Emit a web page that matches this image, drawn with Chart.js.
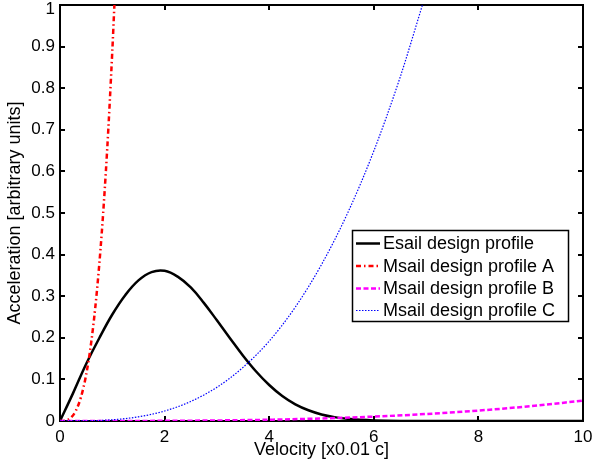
<!DOCTYPE html>
<html><head><meta charset="utf-8">
<script src="https://cdn.jsdelivr.net/npm/chart.js@4/dist/chart.umd.min.js"></script>
<style>html,body{margin:0;padding:0;background:#fff}</style>
</head><body>
<canvas id="c" width="594" height="469" style="width:594px;height:469px;display:block"></canvas>
<script>
const xTickValues = [0, 2, 4, 6, 8, 10];
const yTickValues = [0, 0.1, 0.2, 0.3, 0.4, 0.5, 0.6, 0.7, 0.8, 0.9, 1];
const seriesNames = ['Esail design profile', 'Msail design profile A', 'Msail design profile B', 'Msail design profile C'];
const xTitle = 'Velocity [x0.01 c]';
const yTitle = 'Acceleration [arbitrary units]';

const esailV = [0, 0.25, 0.5, 0.75, 1.0, 1.25, 1.5, 1.75, 2.0, 2.25, 2.5, 2.75, 3.0, 3.25, 3.5, 3.75, 4.0, 4.25, 4.5, 4.75, 5.0, 5.25, 5.5, 5.75, 6.0, 6.5, 7.0, 10];
const esailA = [0, 0.067, 0.137, 0.199, 0.256, 0.303, 0.338, 0.358, 0.361, 0.347, 0.321, 0.284, 0.242, 0.199, 0.157, 0.119, 0.0865, 0.060, 0.040, 0.0258, 0.0158, 0.0093, 0.0052, 0.0028, 0.0014, 0.0003, 0.0001, 0];

const msailAV = [0, 0.1, 0.2, 0.3, 0.4, 0.5, 0.6, 0.7, 0.8, 0.9, 1.0, 1.04];
const msailAA = [0, 0.001, 0.007, 0.024, 0.057, 0.111, 0.192, 0.305, 0.455, 0.648, 0.889, 1.0];

const msailBV = [0, 1, 2, 3, 4, 5, 6, 7, 8, 9, 10];
const msailBA = [0, 0.0001, 0.0004, 0.0013, 0.0031, 0.0061, 0.0106, 0.0168, 0.0251, 0.0357, 0.049];

const msailCV = [0, 0.5, 1, 1.5, 2, 2.5, 3, 3.5, 4, 4.5, 5, 5.5, 6, 6.5, 6.93];
const msailCA = [0, 0.0004, 0.003, 0.010, 0.024, 0.047, 0.081, 0.129, 0.192, 0.274, 0.376, 0.5, 0.649, 0.825, 1.0];

const FONT = "'Liberation Sans', Arial, Helvetica, sans-serif";
const pts = (xs, ys) => xs.map((x, i) => ({x: x, y: ys[i]}));
const fmtY = v => String(Math.round(v * 10) / 10);

const frameAndLegend = {
  id: 'frameAndLegend',
  beforeDatasetsDraw(chart) {
    const {ctx, chartArea: a, scales: {x, y}} = chart;
    ctx.save();
    ctx.strokeStyle = '#000';
    ctx.lineWidth = 2;
    ctx.strokeRect(a.left, a.top, a.right - a.left, a.bottom - a.top);
    ctx.beginPath();
    xTickValues.forEach(v => {
      const px = Math.round(x.getPixelForValue(v));
      ctx.moveTo(px, a.bottom); ctx.lineTo(px, a.bottom - 5);
      ctx.moveTo(px, a.top); ctx.lineTo(px, a.top + 5);
    });
    yTickValues.forEach(v => {
      const py = Math.round(y.getPixelForValue(v));
      ctx.moveTo(a.left, py); ctx.lineTo(a.left + 5, py);
      ctx.moveTo(a.right, py); ctx.lineTo(a.right - 5, py);
    });
    ctx.stroke();
    const top = yTickValues[yTickValues.length - 1];
    ctx.fillStyle = '#000';
    ctx.font = '17px ' + FONT;
    ctx.textAlign = 'right';
    ctx.textBaseline = 'middle';
    ctx.fillText(fmtY(top), a.left - 5, y.getPixelForValue(top) + 4);
    ctx.restore();
  },
  afterDraw(chart) {
    const ctx = chart.ctx;
    const bx = 352.5, by = 230.5, bw = 216, bh = 91;
    ctx.save();
    ctx.fillStyle = '#fff';
    ctx.fillRect(bx, by, bw, bh);
    ctx.strokeStyle = '#000';
    ctx.lineWidth = 1.5;
    ctx.strokeRect(bx, by, bw, bh);
    const rows = [243.5, 266, 288.5, 310.5];
    ctx.font = '18px ' + FONT;
    ctx.textBaseline = 'middle';
    ctx.textAlign = 'left';
    chart.data.datasets.forEach((ds, i) => {
      const yy = rows[i];
      ctx.beginPath();
      ctx.strokeStyle = ds.borderColor;
      ctx.lineWidth = ds.borderWidth;
      ctx.setLineDash(ds.borderDash || []);
      ctx.moveTo(356, yy); ctx.lineTo(380, yy);
      ctx.stroke();
      ctx.setLineDash([]);
      ctx.fillStyle = '#000';
      ctx.fillText(ds.label, 383, yy + 1);
    });
    ctx.restore();
  }
};

new Chart(document.getElementById('c'), {
  type: 'line',
  data: {
    datasets: [
      {label: seriesNames[0], data: pts(esailV, esailA), borderColor: '#000000', borderWidth: 2.5, tension: 0.4, order: 4},
      {label: seriesNames[1], data: pts(msailAV, msailAA), borderColor: '#ff0000', borderWidth: 2.5, borderDash: [5, 3, 1.5, 3], cubicInterpolationMode: 'monotone', order: 3},
      {label: seriesNames[2], data: pts(msailBV, msailBA), borderColor: '#ff00ff', borderWidth: 2.5, borderDash: [5, 2.5], cubicInterpolationMode: 'monotone', order: 2},
      {label: seriesNames[3], data: pts(msailCV, msailCA), borderColor: '#0000ff', borderWidth: 1.2, borderDash: [1.5, 1.5], cubicInterpolationMode: 'monotone', order: 1}
    ]
  },
  options: {
    responsive: false,
    devicePixelRatio: 1,
    animation: false,
    elements: {point: {radius: 0, hoverRadius: 0}, line: {fill: false}},
    layout: {padding: {top: 5, right: 11, left: 0, bottom: 0}},
    plugins: {legend: {display: false}, tooltip: {enabled: false}},
    events: [],
    scales: {
      x: {
        type: 'linear', min: 0, max: 10,
        afterFit: s => { s.height = 48; s.paddingLeft = 0; s.paddingRight = 0; },
        afterBuildTicks: s => { s.ticks = xTickValues.map(v => ({value: v})); },
        grid: {display: false, drawTicks: false},
        border: {display: false},
        ticks: {color: '#000', font: {family: FONT, size: 17}, padding: 6, maxRotation: 0, autoSkip: false,
                callback: v => String(v)},
        title: {display: true, text: xTitle, color: '#000', font: {family: FONT, size: 18}, padding: {top: 0, bottom: 8}}
      },
      y: {
        type: 'linear', min: 0, max: 1,
        afterFit: s => { s.width = 60; s.paddingTop = 0; s.paddingBottom = 0; },
        afterBuildTicks: s => { s.ticks = yTickValues.map(v => ({value: v})); },
        grid: {display: false, drawTicks: false},
        border: {display: false},
        ticks: {color: '#000', font: {family: FONT, size: 17}, padding: 5, autoSkip: false,
                callback: v => (v >= 1 ? '' : fmtY(v))},
        title: {display: true, text: yTitle, color: '#000', font: {family: FONT, size: 18}, padding: {top: 4, bottom: 0}}
      }
    }
  },
  plugins: [frameAndLegend]
});
</script>
</body></html>
